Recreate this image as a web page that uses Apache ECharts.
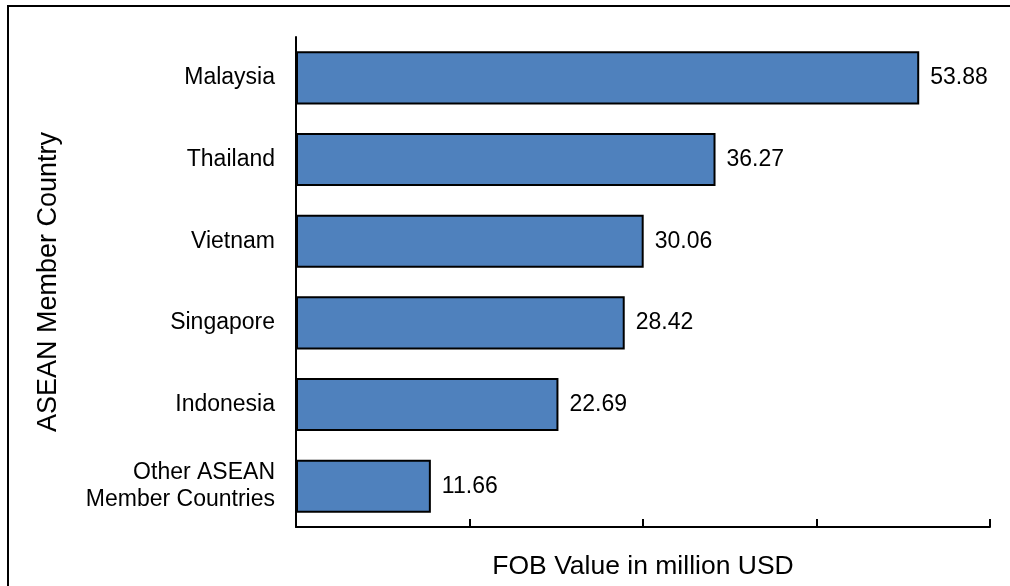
<!DOCTYPE html>
<html>
<head>
<meta charset="utf-8">
<script src="https://cdn.jsdelivr.net/npm/echarts@6/dist/echarts.min.js"></script>
<style>html,body{margin:0;padding:0;background:#fff}#c{width:1010px;height:586px}</style>
</head>
<body>
<div id="c"></div>
<script>
var categories = ['Malaysia', 'Thailand', 'Vietnam', 'Singapore', 'Indonesia', 'Other ASEAN\nMember Countries'];
var values = [53.88, 36.27, 30.06, 28.42, 22.69, 11.66];
var xTicks = [0, 15, 30, 45, 60];

var chart = echarts.init(document.getElementById('c'), null, {renderer: 'canvas'});
var font = 'Liberation Sans, Arial, sans-serif';
chart.setOption({
  animation: false,
  backgroundColor: '#fff',
  textStyle: {fontFamily: font},
  graphic: [{
    type: 'rect',
    shape: {x: 8, y: 6, width: 1100, height: 700},
    style: {fill: 'none', stroke: '#000', lineWidth: 2},
    silent: true
  }],
  grid: {left: 296, right: 20, top: 37, bottom: 59, containLabel: false},
  xAxis: {
    type: 'value',
    min: xTicks[0],
    max: xTicks[xTicks.length - 1],
    interval: xTicks[1] - xTicks[0],
    axisLine: {show: true, lineStyle: {color: '#000', width: 2}},
    axisTick: {show: true, inside: true, length: 8, lineStyle: {color: '#000', width: 2}},
    axisLabel: {show: false},
    splitLine: {show: false},
    name: 'FOB Value in million USD',
    nameLocation: 'middle',
    nameGap: 26,
    nameTextStyle: {fontSize: 26.5, color: '#000', fontFamily: font}
  },
  yAxis: {
    type: 'category',
    data: categories,
    inverse: true,
    axisLine: {show: true, lineStyle: {color: '#000', width: 2}},
    axisTick: {show: false},
    axisLabel: {fontSize: 23, color: '#000', margin: 21, lineHeight: 27, fontFamily: font, align: 'right'},
    name: 'ASEAN Member Country',
    nameLocation: 'middle',
    nameRotate: 90,
    nameGap: 234,
    nameTextStyle: {fontSize: 27, color: '#000', fontFamily: font}
  },
  series: [{
    type: 'bar',
    data: values,
    barCategoryGap: '35%',
    itemStyle: {color: '#4F81BD', borderColor: '#000', borderWidth: 2},
    label: {
      show: true,
      position: 'right',
      distance: 11,
      fontSize: 23,
      color: '#000',
      fontFamily: font,
      formatter: function (p) { return p.value.toFixed(2); }
    }
  }]
});
</script>
</body>
</html>
